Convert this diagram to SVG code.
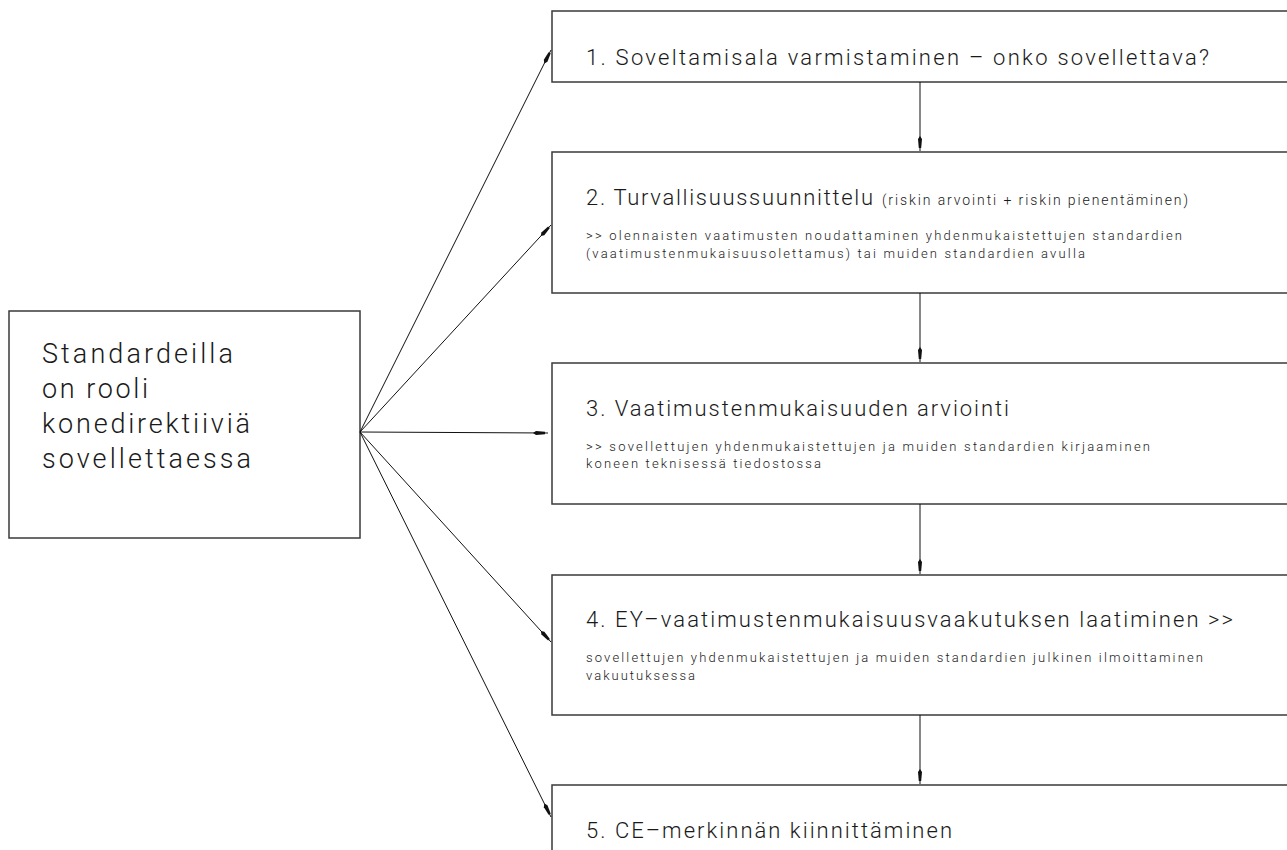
<svg xmlns="http://www.w3.org/2000/svg" width="1287" height="850" viewBox="0 0 1287 850">
<style>
.box{fill:#fff;stroke:#3a3a3a;stroke-width:1.5}
.t{font-family:Roboto,"Liberation Sans",Arial,sans-serif;font-weight:300;fill:#1a1a1a}
.big{font-size:22px}
.left{font-size:27px}
.sm{font-size:13px}
.mid{font-size:14px}
.con{stroke:#111;stroke-width:1;fill:none;marker-end:url(#ah)}
</style>
<defs>
<marker id="ah" viewBox="0 0 16 6" refX="15" refY="3" markerWidth="16" markerHeight="6" markerUnits="userSpaceOnUse" orient="auto">
<path d="M0,3 L3,1 L12,1.8 L12,4.2 L3,5 Z" fill="#111"/>
</marker>
</defs>
<rect width="1287" height="850" fill="#fff"/>
<g id="source">
<rect class="box" x="9" y="311" width="351" height="227"/>
<text class="t left" x="42" y="363" textLength="191" lengthAdjust="spacing">Standardeilla</text>
<text class="t left" x="42" y="398" textLength="106" lengthAdjust="spacing">on rooli</text>
<text class="t left" x="42" y="433" textLength="208" lengthAdjust="spacing">konedirektiiviä</text>
<text class="t left" x="42" y="468" textLength="209" lengthAdjust="spacing">sovellettaessa</text>
</g>
<g id="step1">
<rect class="box" x="552" y="11" width="760" height="71"/>
<text class="t big" x="586" y="65" textLength="623" lengthAdjust="spacing">1. Soveltamisala varmistaminen – onko sovellettava?</text>
</g>
<g id="step2">
<rect class="box" x="552" y="152" width="760" height="141"/>
<text class="t big" x="586" y="205" textLength="287" lengthAdjust="spacing">2. Turvallisuussuunnittelu</text>
<text class="t mid" x="882" y="205" textLength="306" lengthAdjust="spacing">(riskin arvointi + riskin pienentäminen)</text>
<text class="t sm" x="586" y="240" textLength="596" lengthAdjust="spacing">&gt;&gt; olennaisten vaatimusten noudattaminen yhdenmukaistettujen standardien</text>
<text class="t sm" x="586" y="258" textLength="499" lengthAdjust="spacing">(vaatimustenmukaisuusolettamus) tai muiden standardien avulla</text>
</g>
<g id="step3">
<rect class="box" x="552" y="363" width="760" height="141"/>
<text class="t big" x="586" y="416" textLength="423" lengthAdjust="spacing">3. Vaatimustenmukaisuuden arviointi</text>
<text class="t sm" x="586" y="451" textLength="564" lengthAdjust="spacing">&gt;&gt; sovellettujen yhdenmukaistettujen ja muiden standardien kirjaaminen</text>
<text class="t sm" x="586" y="468" textLength="235" lengthAdjust="spacing">koneen teknisessä tiedostossa</text>
</g>
<g id="step4">
<rect class="box" x="552" y="575" width="760" height="140"/>
<text class="t big" x="586" y="627" textLength="647" lengthAdjust="spacing">4. EY–vaatimustenmukaisuusvaakutuksen laatiminen &gt;&gt;</text>
<text class="t sm" x="586" y="662" textLength="617" lengthAdjust="spacing">sovellettujen yhdenmukaistettujen ja muiden standardien julkinen ilmoittaminen</text>
<text class="t sm" x="586" y="680" textLength="109" lengthAdjust="spacing">vakuutuksessa</text>
</g>
<g id="step5">
<rect class="box" x="552" y="785" width="760" height="100"/>
<text class="t big" x="586" y="838" textLength="366" lengthAdjust="spacing">5. CE–merkinnän kiinnittäminen</text>
</g>
<g id="connectors">
<line class="con" x1="360" y1="432" x2="551" y2="50"/>
<line class="con" x1="360" y1="432" x2="551" y2="225"/>
<line class="con" x1="360" y1="432" x2="548" y2="433"/>
<line class="con" x1="360" y1="432" x2="551" y2="642"/>
<line class="con" x1="360" y1="432" x2="551" y2="817"/>
<line class="con" x1="920" y1="82" x2="920" y2="151"/>
<line class="con" x1="920" y1="293" x2="920" y2="362"/>
<line class="con" x1="920" y1="504" x2="920" y2="574"/>
<line class="con" x1="920" y1="715" x2="920" y2="784"/>
</g>
</svg>
